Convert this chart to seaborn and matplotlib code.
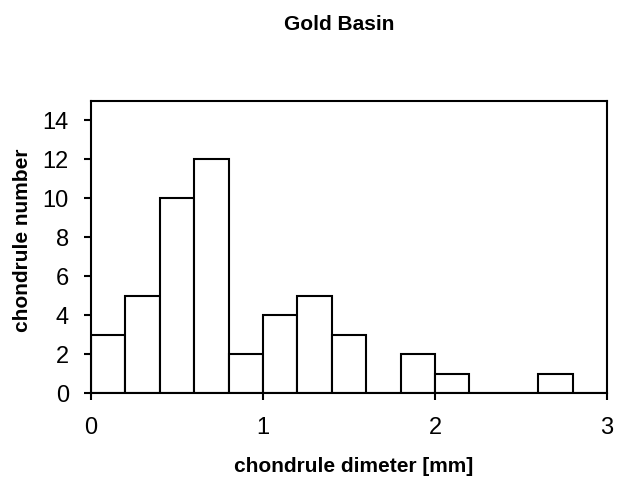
import matplotlib
matplotlib.use("Agg")
import matplotlib.pyplot as plt
import seaborn as sns
import numpy as np

bin_starts = [0.0, 0.2, 0.4, 0.6, 0.8, 1.0, 1.2, 1.4, 1.6, 1.8, 2.0, 2.2, 2.4, 2.6, 2.8]
counts = [3, 5, 10, 12, 2, 4, 5, 3, 0, 2, 1, 0, 0, 1, 0]
bin_width = 0.2
y_ticks = [0, 2, 4, 6, 8, 10, 12, 14]
x_ticks = [0, 1, 2, 3]

sns.set_style("white")
plt.rcParams['font.family'] = ['Liberation Sans', 'DejaVu Sans']
plt.rcParams['text.color'] = 'black'
plt.rcParams['axes.labelcolor'] = 'black'
plt.rcParams['xtick.color'] = 'black'
plt.rcParams['ytick.color'] = 'black'

W, H = 617, 479
fig = plt.figure(figsize=(W / 100, H / 100), dpi=100)
left, right, top, bottom = 91, 607, 101, 393
ax = fig.add_axes([left / W, 1 - bottom / H, (right - left) / W, (bottom - top) / H])

centers = [s + bin_width / 2 for s in bin_starts]
sns.histplot(x=centers, weights=counts, binwidth=bin_width, binrange=(0, 3),
             color="white", edgecolor="black", linewidth=1.5, alpha=1, ax=ax)

ax.set_xlim(0, 3)
ax.set_ylim(0, 15)
ax.set_xticks(x_ticks)
ax.set_xticklabels([str(t) for t in x_ticks], fontsize=17)
ax.set_yticks(y_ticks)
ax.set_yticklabels([str(t) for t in y_ticks], fontsize=17)
ax.tick_params(axis='both', direction='out', length=5, width=1.5, color='black',
               bottom=True, left=True)
ax.tick_params(axis='x', pad=12)
ax.tick_params(axis='y', pad=11)
for sp in ax.spines.values():
    sp.set_visible(True)
    sp.set_color('black')
    sp.set_linewidth(1.5)

ax.set_xlabel("")
ax.set_ylabel("")
fig.text(354 / W, 1 - 466 / H, "chondrule dimeter [mm]", ha='center', va='center',
         fontsize=15, fontweight='bold')
fig.text(23 / W, 1 - 240 / H, "chondrule number", ha='center', va='center',
         rotation=90, fontsize=15, fontweight='bold')
fig.text(339 / W, 1 - 25 / H, "Gold Basin", ha='center', va='center',
         fontsize=15, fontweight='bold')

fig.savefig("out.png", dpi=100, facecolor='white')
